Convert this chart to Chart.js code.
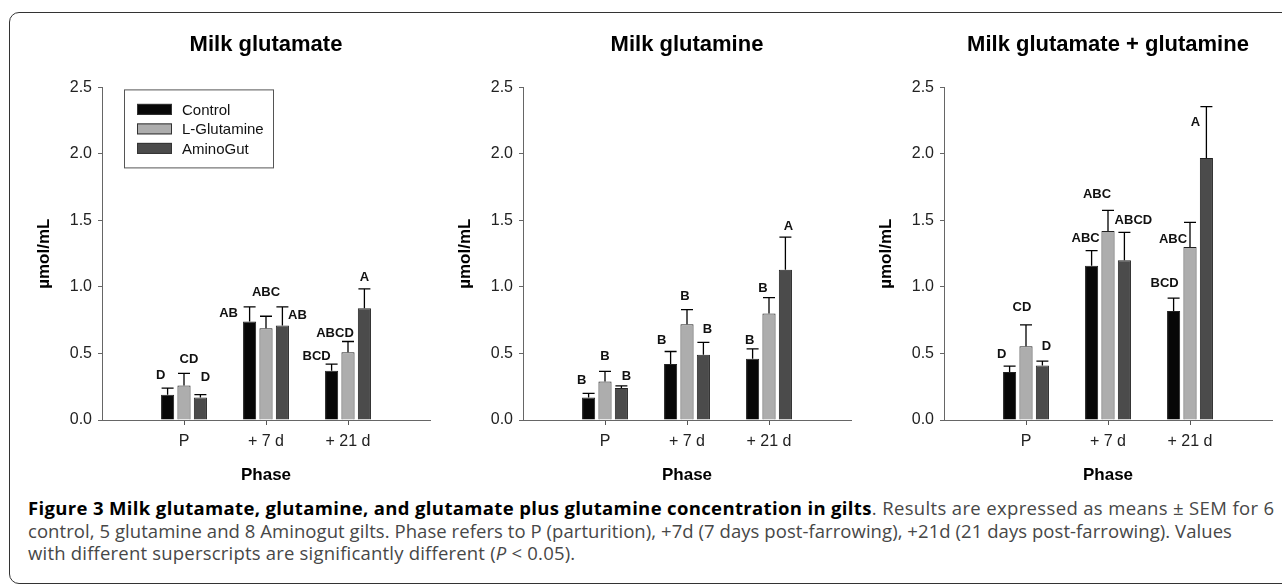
<!DOCTYPE html>
<html>
<head>
<meta charset="utf-8">
<script src="https://cdn.jsdelivr.net/npm/chart.js@4.4.0/dist/chart.umd.min.js"></script>
<style>
  body { margin: 0; background: #fff; width: 1282px; height: 588px; overflow: hidden; position: relative; }
  #frame { position: absolute; left: 9px; top: 12px; width: 1300px; height: 572px;
           border: 1.5px solid #333; border-radius: 10px; box-sizing: border-box; }
  canvas { position: absolute; top: 20px; }
  #caption { position: absolute; left: 28px; top: 497px; font-family: "Open Sans", sans-serif;
             font-size: 18.5px; line-height: 22.5px; color: #474747; white-space: nowrap; }
  #caption div { height: 22.5px; }
  #caption b { color: #000; }
</style>
</head>
<body>
<div id="frame"></div>
<canvas id="c1" width="435" height="475" style="left:2px"></canvas>
<canvas id="c2" width="435" height="475" style="left:423px"></canvas>
<canvas id="c3" width="435" height="475" style="left:844px"></canvas>
<div id="caption">
<div style="letter-spacing:0.35px"><b>Figure 3 Milk glutamate, glutamine, and glutamate plus glutamine concentration in gilts</b>. Results are expressed as means ± SEM for 6</div>
<div style="letter-spacing:0.06px">control, 5 glutamine and 8 Aminogut gilts. Phase refers to P (parturition), +7d (7 days post-farrowing), +21d (21 days post-farrowing). Values</div>
<div style="letter-spacing:0.2px">with different superscripts are significantly different (<i>P</i> &lt; 0.05).</div>
</div>
<script>
var phases = ['P', '+ 7 d', '+ 21 d'];
var groups = ['Control', 'L-Glutamine', 'AminoGut'];
var group_colors = ['#070707', '#adadad', '#4b4b4b'];
var y_ticks = [0, 0.5, 1.0, 1.5, 2.0, 2.5];

// Milk glutamate
var glu_control = [0.19, 0.74, 0.37];
var glu_lglut = [0.26, 0.69, 0.51];
var glu_amino = [0.17, 0.71, 0.84];
var glu_control_sem = [0.05, 0.11, 0.05];
var glu_lglut_sem = [0.09, 0.09, 0.08];
var glu_amino_sem = [0.02, 0.14, 0.145];
var glu_letters = [['D', 'AB', 'BCD'], ['CD', 'ABC', 'ABCD'], ['D', 'AB', 'A']];

// Milk glutamine
var gln_control = [0.17, 0.42, 0.46];
var gln_lglut = [0.29, 0.72, 0.80];
var gln_amino = [0.24, 0.49, 1.13];
var gln_control_sem = [0.03, 0.095, 0.075];
var gln_lglut_sem = [0.075, 0.11, 0.12];
var gln_amino_sem = [0.016, 0.093, 0.245];
var gln_letters = [['B', 'B', 'B'], ['B', 'B', 'B'], ['B', 'B', 'A']];

// Milk glutamate + glutamine
var sum_control = [0.36, 1.16, 0.82];
var sum_lglut = [0.555, 1.42, 1.30];
var sum_amino = [0.41, 1.20, 1.97];
var sum_control_sem = [0.045, 0.113, 0.096];
var sum_lglut_sem = [0.16, 0.155, 0.185];
var sum_amino_sem = [0.032, 0.21, 0.385];
var sum_letters = [['D', 'ABC', 'BCD'], ['CD', 'ABC', 'ABC'], ['D', 'ABCD', 'A']];

// where each letter sits relative to its error cap: [dx, dy above cap] in px
var glu_offsets = [[[-7, 13], [-21, -7], [-15, 8]], [[5, 14], [0, 24], [-13, 8]], [[5, 17], [15, -9], [0, 12]]];
var gln_offsets = [[[-7, 13], [-9, 11], [-3, 8]], [[0, 15], [-2, 13], [-6, 9]], [[5, 10], [4, 13], [3, 11]]];
var sum_offsets = [[[-8, 12], [-6, 12], [-9, 15]], [[-4, 17], [-11, 16], [-17, -17]], [[4, 15], [9, 12], [-11, -16]]];

// empty slots either side so the phases sit at 1, 2, 3 of a 0..4 axis
var x_labels = [''].concat(phases, ['']);
function pad(arr) { return [null].concat(arr, [null]); }

var errorbar_plugin = {
  id: 'errorbars',
  afterDatasetsDraw: function (chart) {
    var ctx = chart.ctx;
    var y = chart.scales.y;
    var sems = chart.options.plugins.errorbars.sems;
    var letters = chart.options.plugins.errorbars.letters;
    var offsets = chart.options.plugins.errorbars.offsets;
    ctx.save();
    chart.data.datasets.forEach(function (ds, di) {
      var meta = chart.getDatasetMeta(di);
      for (var i = 0; i < phases.length; i++) {
        var bar = meta.data[i + 1];
        var top = y.getPixelForValue(ds.data[i + 1] + sems[di][i]);
        ctx.strokeStyle = '#000';
        ctx.lineWidth = 1.3;
        ctx.beginPath();
        ctx.moveTo(bar.x, bar.y);
        ctx.lineTo(bar.x, top);
        ctx.moveTo(bar.x - 6, top);
        ctx.lineTo(bar.x + 6, top);
        ctx.stroke();
        ctx.fillStyle = '#111';
        ctx.font = 'bold 13px "Liberation Sans", Arial, sans-serif';
        ctx.textAlign = 'center';
        ctx.textBaseline = 'middle';
        var off = offsets[di][i];
        ctx.fillText(letters[di][i], bar.x + off[0], top - off[1]);
      }
    });
    ctx.restore();
  }
};

var legend_plugin = {
  id: 'boxlegend',
  afterDraw: function (chart) {
    if (!chart.options.plugins.boxlegend.show) return;
    var ctx = chart.ctx;
    var a = chart.chartArea;
    var bx = a.left + 22, by = a.top + 2;
    ctx.save();
    ctx.strokeStyle = '#555';
    ctx.lineWidth = 1;
    ctx.strokeRect(bx + 0.5, by + 0.5, 149, 78);
    ctx.font = '15px "Liberation Sans", Arial, sans-serif';
    ctx.textBaseline = 'middle';
    ctx.textAlign = 'left';
    for (var i = 0; i < groups.length; i++) {
      var ry = by + 20 + i * 19.5;
      ctx.fillStyle = group_colors[i];
      ctx.fillRect(bx + 13, ry - 5.5, 35, 11);
      ctx.strokeStyle = '#333';
      ctx.strokeRect(bx + 13.5, ry - 5, 34, 10);
      ctx.fillStyle = '#111';
      ctx.fillText(groups[i], bx + 58, ry + 1);
    }
    ctx.restore();
  }
};

function make_chart(DOM_id, title, series, sems, letters, offsets, show_legend)
{
  var datasets = [];
  for (var i = 0; i < groups.length; i++) {
    datasets.push({
      label: groups[i],
      data: pad(series[i]),
      backgroundColor: group_colors[i],
      borderColor: '#222',
      borderWidth: 1,
      categoryPercentage: 0.6,
      barPercentage: 0.8
    });
  }
  var ctx = document.getElementById(DOM_id).getContext('2d');
  return new Chart(ctx, {
    type: 'bar',
    data: { labels: x_labels, datasets: datasets },
    options: {
      responsive: false,
      animation: false,
      layout: { padding: { left: 0, right: 4, top: 0, bottom: 0 } },
      plugins: {
        legend: { display: false },
        tooltip: { enabled: false },
        title: {
          display: true,
          text: title,
          fullSize: false,
          color: '#000',
          font: { family: '"Liberation Sans", Arial, sans-serif', size: 22, weight: 'bold' },
          padding: { top: 12, bottom: 29 }
        },
        errorbars: { sems: sems, letters: letters, offsets: offsets },
        boxlegend: { show: show_legend }
      },
      scales: {
        x: {
          offset: false,
          afterFit: function (s) { s.height = 75; },
          grid: {
            offset: false,
            drawOnChartArea: false,
            tickLength: 5,
            color: function (c) { return x_labels[c.index] ? '#555' : 'rgba(0,0,0,0)'; }
          },
          border: { display: true, color: '#666', width: 1 },
          ticks: { color: '#222', padding: 7, maxRotation: 0, autoSkip: false,
                   font: { family: '"Liberation Sans", Arial, sans-serif', size: 16 } },
          title: { display: true, text: 'Phase', color: '#000', padding: { top: 0, bottom: 9 },
                   font: { family: '"Liberation Sans", Arial, sans-serif', size: 17, weight: 'bold' } }
        },
        y: {
          min: 0,
          max: 2.5,
          afterFit: function (s) { s.width = 100; },
          afterBuildTicks: function (s) { s.ticks = y_ticks.map(function (v) { return { value: v }; }); },
          grid: { drawOnChartArea: false, tickLength: 4, color: '#666' },
          border: { display: true, color: '#666', width: 1 },
          ticks: { color: '#222', padding: 6,
                   font: { family: '"Liberation Sans", Arial, sans-serif', size: 16 },
                   callback: function (v) { return v.toFixed(1); } },
          title: { display: true, text: 'µmol/mL', color: '#000', padding: { top: 32, bottom: 0 },
                   font: { family: '"Liberation Sans", Arial, sans-serif', size: 17, weight: 'bold' } }
        }
      }
    },
    plugins: [errorbar_plugin, legend_plugin]
  });
}

window.onload = function ()
{
  make_chart('c1', 'Milk glutamate', [glu_control, glu_lglut, glu_amino],
    [glu_control_sem, glu_lglut_sem, glu_amino_sem], glu_letters, glu_offsets, true);
  make_chart('c2', 'Milk glutamine', [gln_control, gln_lglut, gln_amino],
    [gln_control_sem, gln_lglut_sem, gln_amino_sem], gln_letters, gln_offsets, false);
  make_chart('c3', 'Milk glutamate + glutamine', [sum_control, sum_lglut, sum_amino],
    [sum_control_sem, sum_lglut_sem, sum_amino_sem], sum_letters, sum_offsets, false);
}
</script>
</body>
</html>
